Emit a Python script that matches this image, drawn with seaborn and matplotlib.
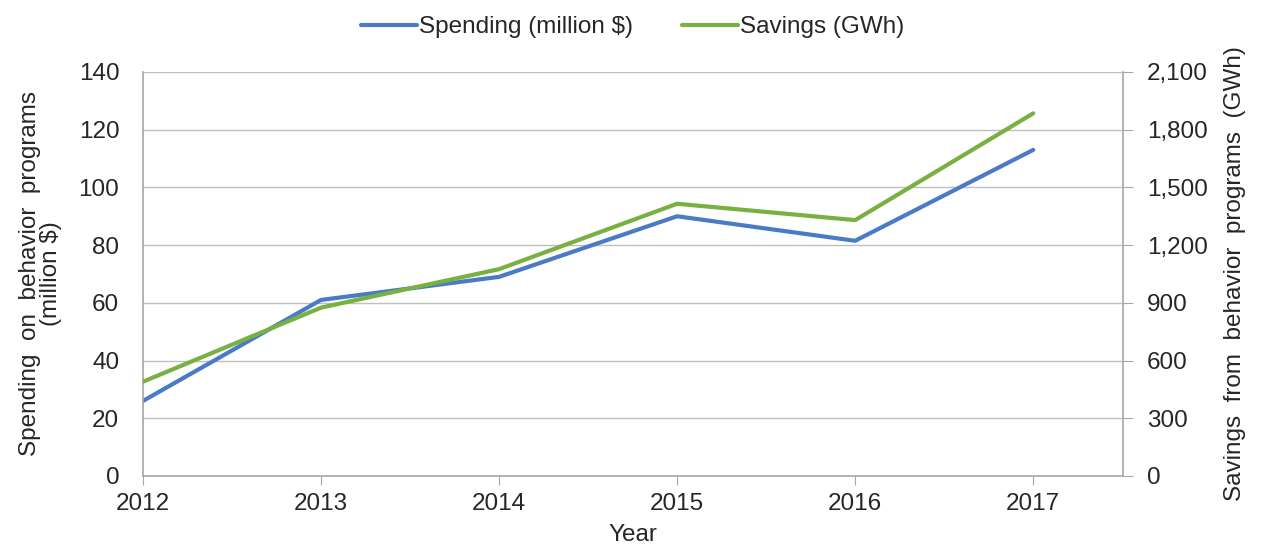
import numpy as np
import pandas as pd
import matplotlib
matplotlib.use('Agg')
import matplotlib.pyplot as plt
import seaborn as sns
from matplotlib.ticker import FuncFormatter

# dados
anos = [2012, 2013, 2014, 2015, 2016, 2017]
gasto = [26, 61, 69, 90, 81.5, 113]          # million $
economia = [490, 875, 1075, 1415, 1330, 1885]  # GWh

sns.set_style('white')
plt.rcParams['font.family'] = ['Liberation Sans', 'DejaVu Sans']

azul = '#4A7BC4'
verde = '#78B041'
cinza = '#A6A6A6'
fs = 17.5

df = pd.DataFrame({'Year': anos, 'Spending': gasto, 'Savings': economia})

fig = plt.figure(figsize=(12.65, 5.58), dpi=100)
ax = fig.add_axes([0.113, 0.147, 0.775, 0.724])
ax2 = ax.twinx()

sns.lineplot(data=df, x='Year', y='Spending', ax=ax, color=azul, linewidth=3,
             label='Spending (million $)', legend=False)
sns.lineplot(data=df, x='Year', y='Savings', ax=ax2, color=verde, linewidth=3,
             label='Savings (GWh)', legend=False)

ax.set_xlim(2012, 2017.506)
ax.set_ylim(0, 140)
ax2.set_ylim(0, 2100)
ax.set_yticks(range(0, 141, 20))
ax2.set_yticks(range(0, 2101, 300))
ax.set_xticks(anos)
ax2.yaxis.set_major_formatter(FuncFormatter(lambda v, p: f'{int(v):,}'))

ax.grid(axis='y', color='#BFBFBF', linewidth=1)
ax.set_axisbelow(True)

for a in (ax, ax2):
    a.spines['top'].set_visible(False)
    for s in ('left', 'right', 'bottom'):
        a.spines[s].set_color(cinza)
        a.spines[s].set_linewidth(1.2)
ax.spines['right'].set_visible(False)
ax2.spines['left'].set_visible(False)
ax2.spines['bottom'].set_visible(False)

ax.tick_params(axis='x', length=6.5, color=cinza, labelsize=fs, pad=6, bottom=True)
ax.tick_params(axis='y', length=0, labelsize=fs, pad=17)
ax2.tick_params(axis='y', length=7, color=cinza, labelsize=fs, pad=10, right=True)

ax.set_xlabel('Year', fontsize=fs, labelpad=6)
ax.set_ylabel('Spending  on  behavior  programs\n(million $)', fontsize=fs,
              labelpad=12, linespacing=0.92)
ax2.set_ylabel('Savings  from  behavior  programs  (GWh)', fontsize=fs, labelpad=12)

h1, l1 = ax.get_legend_handles_labels()
h2, l2 = ax2.get_legend_handles_labels()
fig.legend(h1 + h2, l1 + l2, loc='upper center', bbox_to_anchor=(0.5, 1.01),
           ncol=2, frameon=False, fontsize=fs, handlelength=2.3,
           handletextpad=0.1, columnspacing=2.0)

fig.savefig('out.png', dpi=100)
